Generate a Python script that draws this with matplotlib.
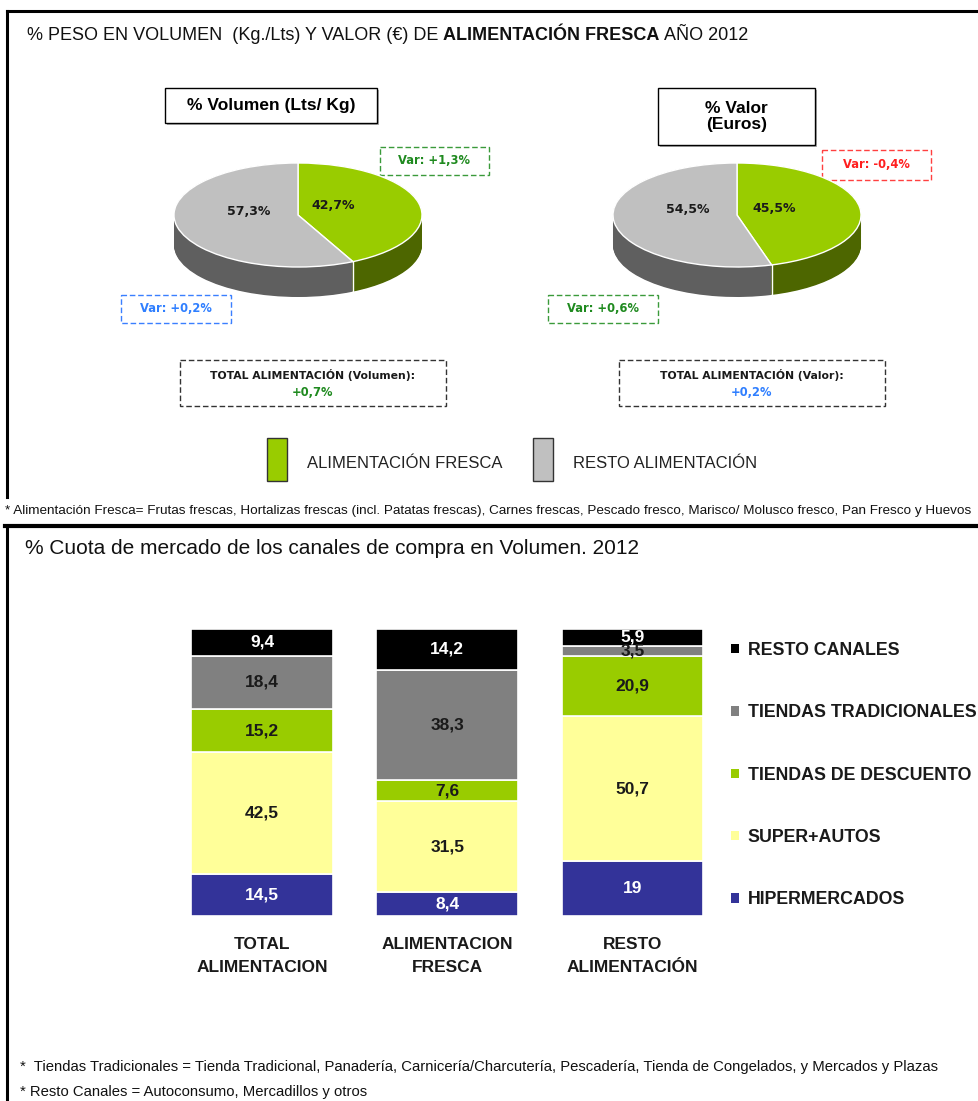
import numpy as np
import matplotlib
matplotlib.use('Agg')
import matplotlib.pyplot as plt
from matplotlib.patches import Rectangle, Patch

plt.rcParams['font.family'] = ['Liberation Sans', 'DejaVu Sans']

W, H = 979, 1101

# --- top: share of fresh food (pies) ---
pie_names = ['ALIMENTACIÓN FRESCA', 'RESTO ALIMENTACIÓN']
volumen_share = [42.7, 57.3]
valor_share = [45.5, 54.5]
pie_top_colors = ['#99cc00', '#c0c0c0']
pie_side_colors = ['#4d6600', '#5f5f5f']

var_volumen = ['+1,3%', '+0,2%']
var_valor = ['-0,4%', '+0,6%']
total_volumen = '+0,7%'
total_valor = '+0,2%'

# --- bottom: channel share in volume (stacked bars) ---
bar_groups = ['TOTAL\nALIMENTACION', 'ALIMENTACION\nFRESCA', 'RESTO\nALIMENTACIÓN']
canales = ['HIPERMERCADOS', 'SUPER+AUTOS', 'TIENDAS DE DESCUENTO',
           'TIENDAS TRADICIONALES', 'RESTO CANALES']
hipermercados = [14.5, 8.4, 19]
super_autos = [42.5, 31.5, 50.7]
descuento = [15.2, 7.6, 20.9]
tradicionales = [18.4, 38.3, 3.5]
resto_canales = [9.4, 14.2, 5.9]
canal_colors = ['#333399', '#ffff99', '#99cc00', '#808080', '#000000']
canal_text_colors = ['white', '#1a1a1a', '#1a1a1a', '#1a1a1a', 'white']

GREEN_TXT = '#1f8a1f'
BLUE_TXT = '#2f7fff'
RED_TXT = '#ff1f1f'

RX, RY, DEPTH = 124, 52, 30


def fmt(v):
    return ('%g' % v).replace('.', ',')


def px_axes(fig, x0, y0, x1, y1):
    return fig.add_axes([x0 / W, 1 - y1 / H, (x1 - x0) / W, (y1 - y0) / H])


def draw_pie(fig, cx, cy, values, label_pos):
    ax = px_axes(fig, cx - 1.3 * RX, cy - 1.3 * RY, cx + 1.3 * RX, cy + 1.9 * RY)
    d = DEPTH / RY
    # stack of darker pies gives the 3d side
    for off in np.linspace(d, 0, 40):
        ax.pie(values, colors=pie_side_colors, startangle=90, counterclock=False,
               center=(0, -off), wedgeprops=dict(linewidth=0))
    theta = np.deg2rad(90 - 360 * values[0] / sum(values))
    ax.plot([np.cos(theta)] * 2, [np.sin(theta), np.sin(theta) - d],
            color='white', lw=1)
    ax.pie(values, colors=pie_top_colors, startangle=90, counterclock=False,
           wedgeprops=dict(edgecolor='white', linewidth=1))
    for v, (lx, ly) in zip(values, label_pos):
        ax.text(lx, ly, fmt(v) + '%', ha='center', va='center', fontsize=9,
                fontweight='bold', color='#1a1a1a', family='DejaVu Sans')
    ax.set_aspect('auto')
    ax.set_xlim(-1.3, 1.3)
    ax.set_ylim(-1.9, 1.3)
    ax.axis('off')


def dashed_box(ax, x0, y0, x1, y1, color):
    ax.add_patch(Rectangle((x0, y0), x1 - x0, y1 - y0, fill=False, edgecolor=color,
                           lw=1, ls=(0, (4, 2))))


def title_box(ax, x0, y0, x1, y1, text):
    ax.add_patch(Rectangle((x0 + 2, y0 + 2), x1 - x0, y1 - y0, facecolor='#b0b0b0',
                           edgecolor='none'))
    ax.add_patch(Rectangle((x0, y0), x1 - x0, y1 - y0, facecolor='white',
                           edgecolor='black', lw=1))
    ax.text((x0 + x1) / 2, (y0 + y1) / 2, text, ha='center', va='center',
            fontsize=12.5, fontweight='bold', linespacing=1.15)


fig = plt.figure(figsize=(W / 100, H / 100), dpi=100)
ov = fig.add_axes([0, 0, 1, 1])
ov.set_xlim(0, W)
ov.set_ylim(H, 0)
ov.axis('off')

# frames
ov.plot([7, W], [11, 11], color='black', lw=2.2)
ov.plot([7, 7], [11, 497], color='black', lw=2.2)
ov.plot([5, W], [526, 526], color='black', lw=3)
ov.plot([7, 7], [526, H], color='black', lw=2.2)

# top title in mixed weights
tfs = 13
t1 = ov.text(27, 35, '% PESO EN VOLUMEN  (Kg./Lts) Y VALOR (€) DE ', fontsize=tfs,
             va='center', color='#111111')
t2 = ov.annotate('ALIMENTACIÓN FRESCA', xy=(1, 0), xycoords=t1, va='bottom',
                 fontsize=tfs, fontweight='bold', color='#111111')
ov.annotate(' AÑO 2012', xy=(1, 0), xycoords=t2, va='bottom', fontsize=tfs,
            color='#111111')

title_box(ov, 165, 88, 377, 123, '% Volumen (Lts/ Kg)')
title_box(ov, 658, 88, 815, 145, '% Valor\n(Euros)')

draw_pie(fig, 298, 215, volumen_share, [(0.28, 0.19), (-0.40, 0.06)])
draw_pie(fig, 737, 215, valor_share, [(0.30, 0.13), (-0.40, 0.10)])

var_font = dict(fontsize=8.3, fontweight='bold', family='DejaVu Sans',
                ha='center', va='center')
boxes = [((380, 147, 489, 175), 'Var: ' + var_volumen[0], GREEN_TXT, '#3a9a3a'),
         ((121, 295, 231, 323), 'Var: ' + var_volumen[1], BLUE_TXT, '#3a7fff'),
         ((822, 150, 931, 180), 'Var: ' + var_valor[0], RED_TXT, '#ff4040'),
         ((548, 295, 658, 323), 'Var: ' + var_valor[1], GREEN_TXT, '#3a9a3a')]
for (x0, y0, x1, y1), txt, tc, ec in boxes:
    dashed_box(ov, x0, y0, x1, y1, ec)
    ov.text((x0 + x1) / 2, (y0 + y1) / 2, txt, color=tc, **var_font)

for (x0, x1), name, val, vc in [((180, 446), 'TOTAL ALIMENTACIÓN (Volumen):', total_volumen, GREEN_TXT),
                                ((619, 885), 'TOTAL ALIMENTACIÓN (Valor):', total_valor, BLUE_TXT)]:
    dashed_box(ov, x0, 360, x1, 406, '#333333')
    ov.text((x0 + x1) / 2, 375, name, color='#1a1a1a', **dict(var_font, fontsize=7.8))
    ov.text((x0 + x1) / 2, 392, val, color=vc, **var_font)

# pie legend
for (x0, name), col in zip([(267, pie_names[0]), (533, pie_names[1])], pie_top_colors):
    ov.add_patch(Rectangle((x0, 438), 20, 43, facecolor=col, edgecolor='#333333', lw=1))
    ov.text(x0 + 40, 463, name, fontsize=12, va='center', color='#222222')

ov.text(5, 511, '* Alimentación Fresca= Frutas frescas, Hortalizas frescas (incl. Patatas frescas), '
        'Carnes frescas, Pescado fresco, Marisco/ Molusco fresco, Pan Fresco y Huevos',
        fontsize=9.7, va='center', color='#111111')

# bottom title
ov.text(25, 548, '% Cuota de mercado de los canales de compra en Volumen. 2012',
        fontsize=15, va='center', color='#111111')

# stacked bars
bx = px_axes(fig, 191, 629, 703.5, 916)
series = [hipermercados, super_autos, descuento, tradicionales, resto_canales]
bottom = np.zeros(len(bar_groups))
for vals, col, tcol in zip(series, canal_colors, canal_text_colors):
    bars = bx.bar(range(len(bar_groups)), vals, width=0.7665, bottom=bottom,
                  color=col, edgecolor='white', linewidth=1.2)
    bx.bar_label(bars, labels=[fmt(v) for v in vals], label_type='center',
                 color=tcol, fontsize=12.5, fontweight='bold')
    bottom += np.array(vals)
bx.set_xlim(-0.3833, 2.3833)
bx.set_ylim(0, 100)
bx.set_xticks(range(len(bar_groups)), bar_groups, fontsize=12.5, fontweight='bold',
              color='#1a1a1a')
for lab in bx.get_xticklabels():
    lab.set_linespacing(1.72)
bx.tick_params(axis='x', length=0, pad=15)
bx.set_yticks([])
for s in bx.spines.values():
    s.set_visible(False)

handles = [Patch(facecolor=c, edgecolor='none') for c in canal_colors][::-1]
fig.legend(handles, canales[::-1], loc='upper left',
           bbox_to_anchor=(731 / W, 1 - 642 / H), frameon=False,
           prop=dict(size=12.8, weight='bold'), handlelength=0.45, handleheight=0.45,
           handletextpad=0.5, labelspacing=2.55, borderpad=0, borderaxespad=0,
           labelcolor='#1a1a1a')

ov.text(20, 1067, '*  Tiendas Tradicionales = Tienda Tradicional, Panadería, Carnicería/Charcutería, '
        'Pescadería, Tienda de Congelados, y Mercados y Plazas',
        fontsize=10.7, va='center', color='#111111')
ov.text(20, 1092, '* Resto Canales = Autoconsumo, Mercadillos y otros',
        fontsize=10.7, va='center', color='#111111')

fig.savefig('out.png', dpi=100)
